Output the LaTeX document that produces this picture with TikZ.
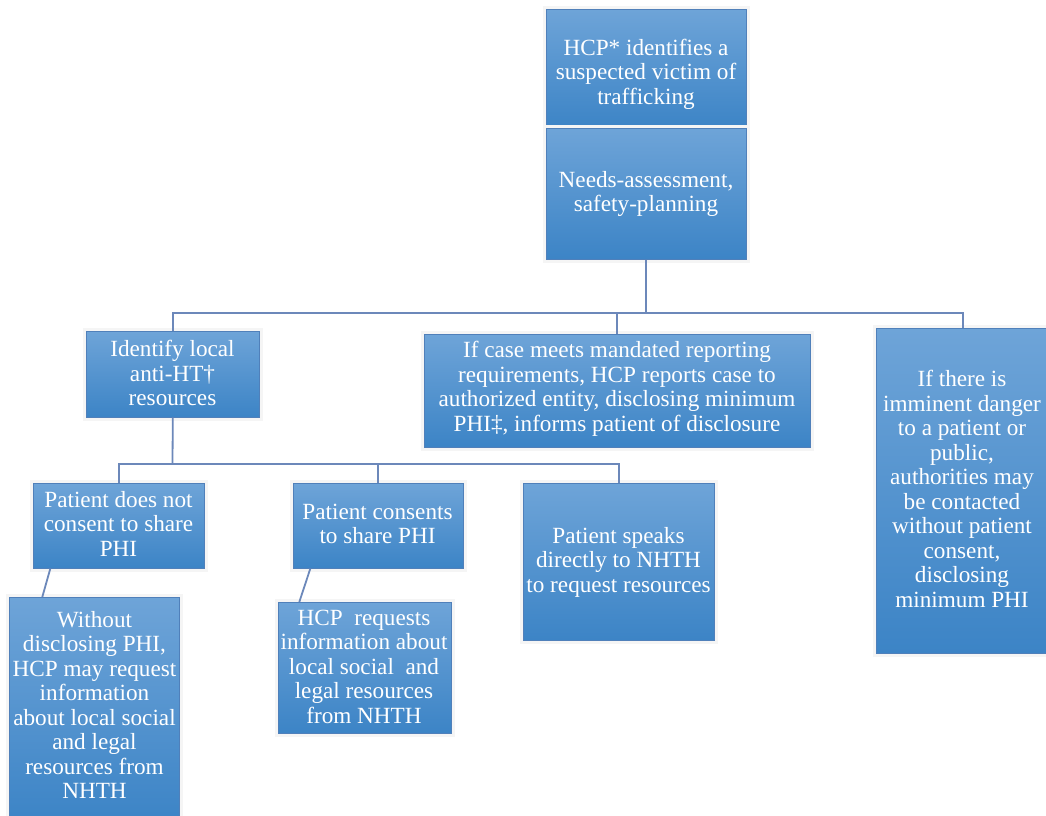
\documentclass[tikz,border=0pt]{standalone}
\usepackage{fontspec}
\setmainfont{Liberation Serif}
\definecolor{boxtop}{RGB}{110,164,216}
\definecolor{boxbot}{RGB}{60,132,198}
\definecolor{boxedge}{RGB}{80,128,186}
\definecolor{linec}{RGB}{108,136,186}
\begin{document}
\begin{tikzpicture}[x=1pt,y=-1pt,
  box/.style={draw=boxedge, line width=0.6pt, top color=boxtop, bottom color=boxbot,
    inner sep=0pt, anchor=north west, preaction={draw=black!4, line width=7pt}},
  txt/.style={text=white, align=center, inner sep=0pt,
    font=\fontsize{23.2}{24.5}\selectfont},
  conn/.style={draw=linec, line width=1.8pt}]
\useasboundingbox (0,0) rectangle (1046,815);
\fill[white] (0,0) rectangle (1046,815);

% boxes
\node[box, minimum width=200pt, minimum height=119pt] (b1) at (546,9) {};
\node[box, minimum width=200pt, minimum height=131pt] (b2) at (546,128) {};
\node[box, minimum width=173pt, minimum height=86pt]  (b3) at (86,331) {};
\node[box, minimum width=386pt, minimum height=113pt] (b4) at (424,334) {};
\node[box, minimum width=174pt, minimum height=325pt] (b5) at (876,328) {};
\node[box, minimum width=171pt, minimum height=85pt]  (b6) at (33,483) {};
\node[box, minimum width=170pt, minimum height=85pt]  (b7) at (293,483) {};
\node[box, minimum width=191pt, minimum height=157pt] (b8) at (523,483) {};
\node[box, minimum width=170pt, minimum height=225pt] (b9) at (9,597) {};
\node[box, minimum width=173pt, minimum height=131pt] (b10) at (278,602) {};

% texts
\node[txt] (t1) at (646,74) {HCP* identifies a\\suspected victim of\\trafficking};
\node[txt] (t2) at (646,194) {Needs-assessment,\\safety-planning};
\node[txt] (t3) at (172.5,373) {Identify local\\anti-HT\textdagger\\resources};
\node[txt] (t4) at (617,389) {If case meets mandated reporting\\requirements, HCP reports case to\\authorized entity, disclosing minimum\\PHI\textdaggerdbl, informs patient of disclosure};
\node[txt] (t5) at (962,489) {If there is\\imminent danger\\to a patient or\\public,\\authorities may\\be contacted\\without patient\\consent,\\disclosing\\minimum PHI};
\node[txt] (t6) at (118.5,523.5) {Patient does not\\consent to share\\PHI};
\node[txt] (t7) at (377.5,524) {Patient consents\\to share PHI};
\node[txt] (t8) at (618.5,562) {Patient speaks\\directly to NHTH\\to request resources};
\node[txt] (t9) at (94.5,705) {Without\\disclosing PHI,\\HCP may request\\information\\about local social\\and legal\\resources from\\NHTH};
\node[txt] (t10) at (364,666.5) {HCP\ \ requests\\information about\\local social\ \ and\\legal resources\\from NHTH};

% connectors
\coordinate (j) at (647,313);
\coordinate (k) at (172.5,464);
\draw[conn] (b2.south) -- (b2.south |- j);
\draw[conn] (b3.north) -- (b3.north |- j) -| (b5.north);
\draw[conn] (b4.north) -- (b4.north |- j);
\draw[conn] (b3.south) -- (k);
\draw[conn] (b6.north) -- (b6.north |- k) -| (b8.north);
\draw[conn] (b7.north) -- (b7.north |- k);
\draw[conn] ([xshift=-68.5pt]b6.south) -- ([xshift=-52pt]b9.north);
\draw[conn] ([xshift=-68pt]b7.south) -- ([xshift=-65.5pt]b10.north);
\end{tikzpicture}
\end{document}
